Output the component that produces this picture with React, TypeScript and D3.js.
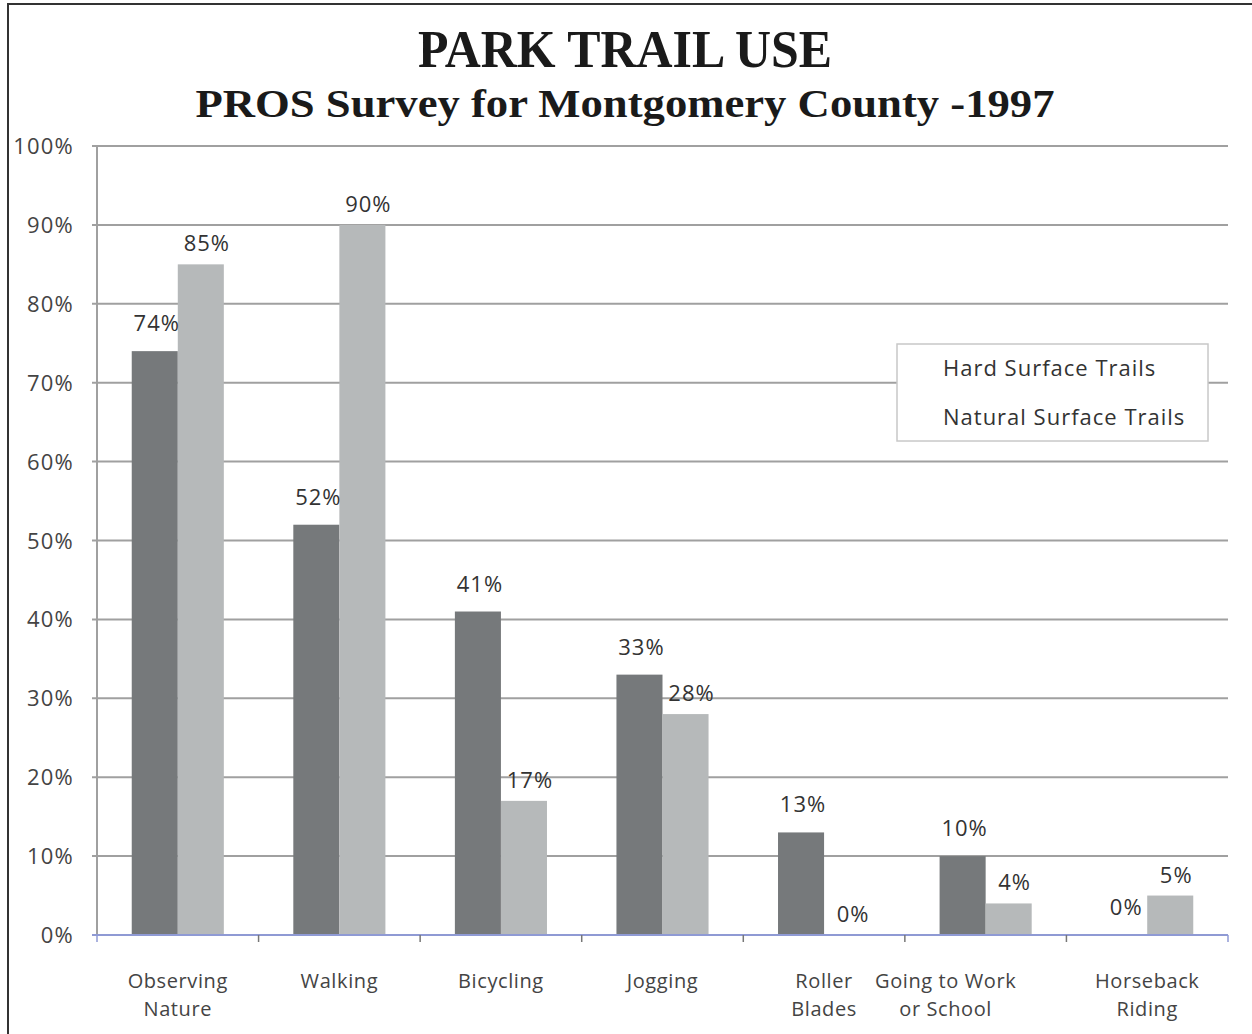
import React from "react";
import * as d3 from "d3";

const categories = [
  ["Observing", "Nature"],
  ["Walking"],
  ["Bicycling"],
  ["Jogging"],
  ["Roller", "Blades"],
  ["Going to Work", "or School"],
  ["Horseback", "Riding"],
];
const hardSurface = [74, 52, 41, 33, 13, 10, 0];
const naturalSurface = [85, 90, 17, 28, 0, 4, 5];
const seriesNames = ["Hard Surface Trails", "Natural Surface Trails"];
const yTicks = [0, 10, 20, 30, 40, 50, 60, 70, 80, 90, 100];

const W = 1252;
const H = 1034;
const left = 97;
const right = 1228;
const top = 146;
const bottom = 935;
const labelFont = "'Open Sans', 'Noto Sans', sans-serif";

export default function App() {
  const x = d3
    .scaleBand<number>()
    .domain(d3.range(categories.length))
    .range([left, right])
    .paddingInner(0)
    .paddingOuter(0);
  const y = d3.scaleLinear().domain([0, 100]).range([bottom, top]);
  const bw = x.bandwidth();
  const groupW = bw * 0.57;
  const barW = groupW / 2;
  const sub = d3.scaleBand<number>().domain([0, 1]).range([0, groupW]);
  const colors = ["#76797b", "#b6b9ba"];
  const series = [hardSurface, naturalSurface];
  const labelOffsets = [20, 13];
  const catShift = (i: number) => (i === 5 ? -40 : 0);

  return (
    <div style={{ position: "fixed", left: 0, top: 0 }}>
      <svg width={W} height={H} style={{ display: "block", background: "#fff" }}>
        <rect x={0} y={0} width={W} height={H} fill="#fff" />
        {/* frame */}
        <line x1={8} x2={W} y1={4} y2={4} stroke="#333" strokeWidth={2} />
        <line x1={8} x2={8} y1={3} y2={H} stroke="#333" strokeWidth={2} />

        {/* titles */}
        <text
          x={625}
          y={67}
          textAnchor="middle"
          fontFamily="'Liberation Serif', 'Times New Roman', serif"
          fontWeight="bold"
          fontSize={52}
          fill="#1a1a1a"
          textLength={414}
          lengthAdjust="spacingAndGlyphs"
        >
          PARK TRAIL USE
        </text>
        <text
          x={625}
          y={117}
          textAnchor="middle"
          fontFamily="'Liberation Serif', 'Times New Roman', serif"
          fontWeight="bold"
          fontSize={40}
          fill="#1a1a1a"
          textLength={859}
          lengthAdjust="spacingAndGlyphs"
        >
          PROS Survey for Montgomery County -1997
        </text>

        {/* gridlines */}
        {yTicks.map((t) => (
          <g key={t}>
            {t > 0 && (
              <line x1={left - 5} x2={right} y1={y(t)} y2={y(t)} stroke="#a0a0a0" strokeWidth={2} />
            )}
            <text
              x={74}
              y={y(t) + 8}
              textAnchor="end"
              fontFamily={labelFont}
              fontSize={22}
              letterSpacing={1.2}
              fill="#444"
            >
              {t}%
            </text>
          </g>
        ))}
        {/* y axis */}
        <line x1={left} x2={left} y1={top} y2={bottom} stroke="#a0a0a0" strokeWidth={2} />

        {/* bars */}
        {categories.map((c, i) => {
          const gx = (x(i) as number) + (bw - groupW) / 2;
          return (
            <g key={i}>
              {series.map((s, k) => (
                <rect
                  key={k}
                  x={gx + (sub(k) as number)}
                  y={y(s[i])}
                  width={barW}
                  height={bottom - y(s[i])}
                  fill={colors[k]}
                />
              ))}
            </g>
          );
        })}

        {/* value labels */}
        {categories.map((c, i) => {
          const gx = (x(i) as number) + (bw - groupW) / 2;
          return (
            <g key={"l" + i}>
              {series.map((s, k) => (
                <text
                  key={k}
                  x={gx + (sub(k) as number) + barW / 2 + 2 + k * 4}
                  y={y(s[i]) - labelOffsets[k]}
                  textAnchor="middle"
                  fontFamily={labelFont}
                  fontSize={22}
                  letterSpacing={1}
                  fill="#333"
                >
                  {s[i]}%
                </text>
              ))}
            </g>
          );
        })}

        {/* x axis */}
        <line x1={left - 5} x2={right} y1={bottom} y2={bottom} stroke="#8f9ad4" strokeWidth={2} />
        {d3.range(categories.length + 1).map((i) => {
          const xx = left + i * bw;
          return (
            <line
              key={i}
              x1={xx}
              x2={xx}
              y1={bottom}
              y2={bottom + 7}
              stroke={i === 0 || i === categories.length ? "#8f9ad4" : "#777"}
              strokeWidth={1.5}
            />
          );
        })}

        {/* category labels */}
        {categories.map((c, i) => (
          <text
            key={"c" + i}
            textAnchor="middle"
            fontFamily={labelFont}
            fontSize={20}
            letterSpacing={0.6}
            fill="#444"
          >
            {c.map((line, j) => (
              <tspan key={j} x={(x(i) as number) + bw / 2 + catShift(i)} y={988 + j * 28}>
                {line}
              </tspan>
            ))}
          </text>
        ))}

        {/* legend */}
        <rect x={897} y={344} width={311} height={97} fill="#fff" stroke="#c8c8c8" strokeWidth={1.5} />
        {seriesNames.map((n, k) => (
          <text
            key={n}
            x={943}
            y={376 + k * 49}
            fontFamily={labelFont}
            fontSize={22}
            letterSpacing={1}
            fill="#333"
          >
            {n}
          </text>
        ))}
      </svg>
    </div>
  );
}
